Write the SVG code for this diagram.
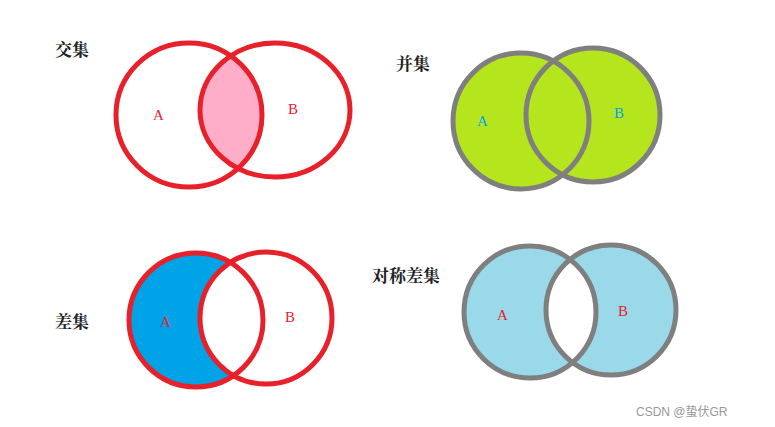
<svg xmlns="http://www.w3.org/2000/svg" width="775" height="427" viewBox="0 0 775 427">
<style>
.t{font-family:"Noto Serif CJK SC","Noto Sans CJK SC",serif;font-weight:bold;font-size:17px;fill:#222}
.l{font-family:"Liberation Serif",serif;font-size:15px;fill:#e8202a}
.r{fill:none;stroke:#e8202a;stroke-width:5}
.g{fill:none;stroke:#7f7f7f;stroke-width:5}
</style>
<defs>
<clipPath id="cB1"><ellipse cx="275" cy="110" rx="75" ry="67"/></clipPath>
<clipPath id="cB3"><ellipse cx="266" cy="318" rx="66" ry="66"/></clipPath>
<clipPath id="cA4"><ellipse cx="530" cy="312" rx="66" ry="66"/></clipPath>
</defs>
<rect width="775" height="427" fill="#fff"/>
<g id="intersection">
<ellipse cx="189" cy="115" rx="73" ry="72" fill="#ffaec9" clip-path="url(#cB1)"/>
<ellipse class="r" cx="189" cy="115" rx="73" ry="72"/>
<ellipse class="r" cx="275" cy="110" rx="75" ry="67"/>
<text class="t" x="55" y="56">交集</text>
<text class="l" x="153" y="120">A</text>
<text class="l" x="288" y="114">B</text>
</g>
<g id="union">
<circle cx="521" cy="121" r="68" fill="#b5e61d"/>
<circle cx="593" cy="115" r="67" fill="#b5e61d"/>
<circle class="g" cx="521" cy="121" r="68"/>
<circle class="g" cx="593" cy="115" r="67"/>
<text class="t" x="396" y="70">并集</text>
<text class="l" x="477" y="126" style="fill:#00a2e8">A</text>
<text class="l" x="614" y="118" style="fill:#00a2e8">B</text>
</g>
<g id="difference">
<circle cx="196" cy="320" r="67" fill="#00a2e8"/>
<circle cx="196" cy="320" r="67" fill="#fff" clip-path="url(#cB3)"/>
<circle class="r" cx="196" cy="320" r="67"/>
<circle class="r" cx="266" cy="318" r="66"/>
<text class="t" x="55" y="328">差集</text>
<text class="l" x="160" y="327">A</text>
<text class="l" x="285" y="322">B</text>
</g>
<g id="symdiff">
<circle cx="530" cy="312" r="66" fill="#99d9ea"/>
<circle cx="611" cy="310" r="65" fill="#99d9ea"/>
<circle cx="611" cy="310" r="65" fill="#fff" clip-path="url(#cA4)"/>
<circle class="g" cx="530" cy="312" r="66"/>
<circle class="g" cx="611" cy="310" r="65"/>
<text class="t" x="372" y="282">对称差集</text>
<text class="l" x="497" y="320">A</text>
<text class="l" x="618" y="316">B</text>
</g>
<text x="636" y="416" style="font-family:'Liberation Sans','Noto Sans CJK SC',sans-serif;font-size:12px;fill:#999">CSDN @蛰伏GR</text>
</svg>
